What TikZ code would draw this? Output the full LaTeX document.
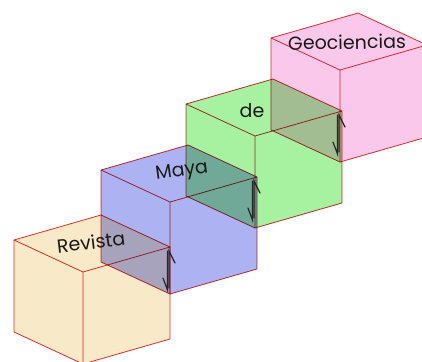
\documentclass[tikz,border=0pt]{standalone}
\usepackage{fontspec}
\newfontfamily\handfont{Poppins}
\definecolor{edgered}{HTML}{E03131}
\definecolor{cubeA}{HTML}{F8E9C8}
\definecolor{cubeB}{HTML}{ADB3F2}
\definecolor{cubeC}{HTML}{A6F2A0}
\definecolor{cubeD}{HTML}{F9C8EA}
\tikzset{
 edge/.style={draw=edgered,line width=0.8pt,line join=round},
 word/.style={font=\handfont\fontsize{19}{19}\selectfont,text=black!90,inner sep=0pt},
 tick/.style={draw=black!85,line width=1.2pt,line cap=round}
}
\begin{document}
\begin{tikzpicture}[x=1pt,y=-1pt]
 \useasboundingbox (0,0) rectangle (422,361);
 \clip (0,0) rectangle (422,361);
 \begin{scope}[blend group=multiply]
 \foreach \fx/\fy/\col in {340/70/cubeD,255/136/cubeC,170/202/cubeB,83/272/cubeA}{
  \begin{scope}[shift={(\fx,\fy)}]
   \fill[\col] (-69,-32) -- (18,-57) -- (87,-25) -- (87,67) -- (0,92) -- (-69,60) -- cycle;
   \draw[edge] (-69,-32) -- (18,-57) -- (87,-25) -- (87,67) -- (0,92) -- (-69,60) -- cycle;
   \draw[edge] (-69,-32) -- (0,0) -- (87,-25) (0,0) -- (0,92);
  \end{scope}
 }
 \end{scope}
 \foreach \x/\y in {170/247,255/177,340/111}{
  \draw[tick] (\x-7,\y+31) -- (\x-2.5,\y+43) -- (\x-2.5,\y+4);
  \draw[tick] (\x-1,\y+41) -- (\x-1,\y+4) -- (\x+5,\y+16);
 }
 \node[word,rotate=7] (revista) at (91,242) {Revista};
 \node[word,rotate=8] (maya) at (182,172) {Maya};
 \node[word] (de) at (252,111) {de};
 \node[word,rotate=1] (geociencias) at (347,42) {Geociencias};
\end{tikzpicture}
\end{document}
